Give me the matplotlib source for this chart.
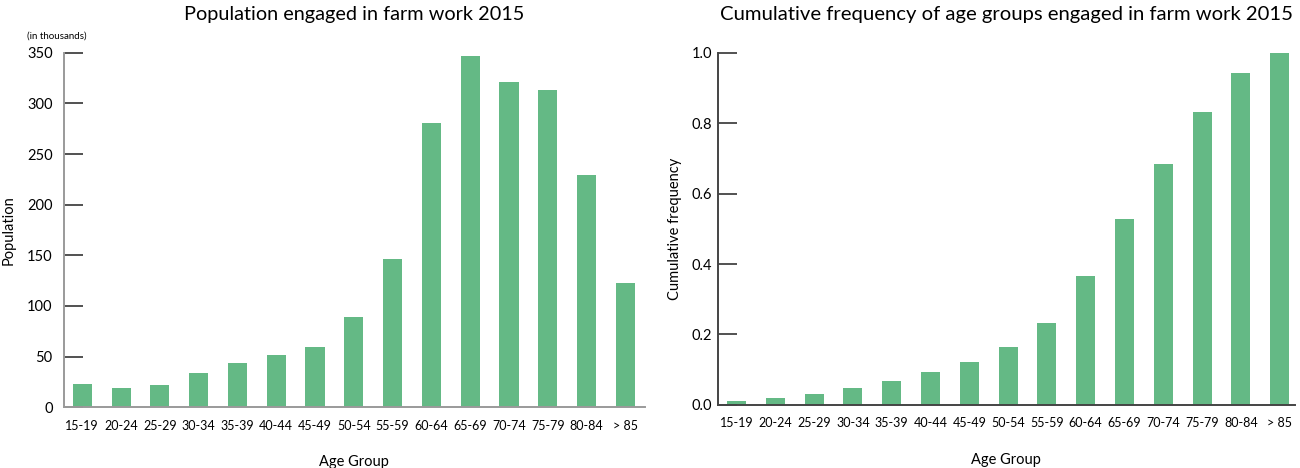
import matplotlib.pyplot as plt

# Age groups and values
age_groups = ["15-19", "20-24", "25-29", "30-34", "35-39", "40-44", "45-49", "50-54",
              "55-59", "60-64", "65-69", "70-74", "75-79", "80-84", "> 85"]
population = [23.2, 18.9, 22.2, 34.1, 43.4, 51.3, 59.6, 89.4,
              146.4, 281.0, 347.4, 321.2, 313.7, 229.5, 122.2]
cumulative = [0.011, 0.020, 0.031, 0.047, 0.068, 0.092, 0.121, 0.164,
              0.233, 0.367, 0.528, 0.683, 0.833, 0.942, 1.0]

BAR_COLOR = "#64b985"
plt.rcParams["font.family"] = ["Lato", "DejaVu Sans"]

fig = plt.figure(figsize=(13, 4.68), dpi=100)
ax1 = fig.add_axes([0.049, 0.130, 0.447, 0.757])
ax2 = fig.add_axes([0.552, 0.135, 0.444, 0.752])


def style(ax, xlim, spine_color, ypad):
    x = range(len(age_groups))
    ax.set_xlim(*xlim)
    ax.set_xticks(list(x))
    ax.set_xticklabels(age_groups, fontsize=9)
    ax.tick_params(axis="x", length=0, pad=9)
    ax.tick_params(axis="y", direction="in", length=14, width=1.2,
                   color="#333333", labelsize=10.5, pad=ypad)
    for side in ("top", "right"):
        ax.spines[side].set_visible(False)
    for side in ("left", "bottom"):
        ax.spines[side].set_color(spine_color)
        ax.spines[side].set_linewidth(1.4)
    ax.set_xlabel("Age Group", fontsize=10.5, labelpad=17)


x = range(len(age_groups))
ax1.bar(x, population, width=0.49, color=BAR_COLOR)
style(ax1, (-0.477, 14.5), "#9a9a9a", 8)
ax1.set_ylim(0, 350)
ax1.set_yticks(range(0, 351, 50))
ax1.set_ylabel("Population", fontsize=10.5, labelpad=8)
ax1.set_title("Population engaged in farm work 2015", fontsize=14.3, pad=24)
ax1.text(-0.064, 1.048, "(in thousands)", transform=ax1.transAxes,
         fontsize=7, ha="left", va="center")

ax2.bar(x, cumulative, width=0.49, color=BAR_COLOR)
style(ax2, (-0.49, 14.39), "#444444", 4)
ax2.set_ylim(0, 1.0)
ax2.set_yticks([0.0, 0.2, 0.4, 0.6, 0.8, 1.0])
ax2.set_yticklabels(["0.0", "0.2", "0.4", "0.6", "0.8", "1.0"])
ax2.set_ylabel("Cumulative frequency", fontsize=10.5, labelpad=7)
ax2.set_title("Cumulative frequency of age groups engaged in farm work 2015",
              fontsize=14.6, pad=24)

fig.savefig("out.png", dpi=100)
